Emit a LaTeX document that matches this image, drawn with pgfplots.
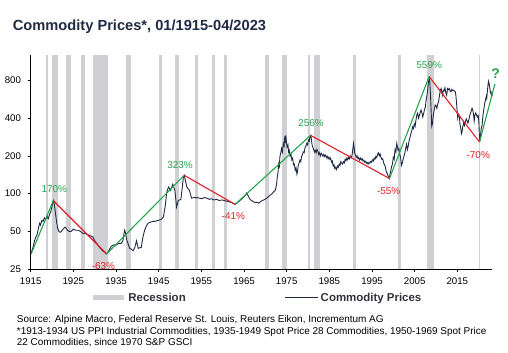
\documentclass[border=0pt]{standalone}
\usepackage{pgfplots}
\pgfplotsset{compat=1.18}
\usepackage{fontspec}
\setmainfont{Liberation Sans}
\definecolor{navy}{RGB}{31,42,68}
\definecolor{recgray}{RGB}{208,208,212}
\definecolor{tgreen}{RGB}{35,165,75}
\definecolor{tred}{RGB}{228,30,38}
\definecolor{legc}{RGB}{50,50,60}
\pgfplotsset{
  recimg/.style={legend image code/.code={\draw[recgray,line width=5bp] (0bp,0bp) -- (31bp,0bp);}},
  lineimg/.style={legend image code/.code={\draw[navy,line width=1bp] (0bp,0bp) -- (33bp,0bp);}},
}
\newcommand{\rec}[2]{\addplot[fill=recgray,draw=none,forget plot] coordinates {(#1,25) (#1,1274) (#2,1274) (#2,25)} --cycle;}
\begin{document}
\begin{tikzpicture}[x=1bp,y=1bp]
\begin{axis}[name=ax, at={(0,0)}, anchor=south west,
  scale only axis, width=461.6bp, height=213.8bp,
  xmin=1915, xmax=2023.2, ymode=log, ymin=25, ymax=1274,
  xtick={1915,1925,1935,1945,1955,1965,1975,1985,1995,2005,2015},
  xticklabels={1915,1925,1935,1945,1955,1965,1975,1985,1995,2005,2015},
  ytick={25,50,100,200,400,800},
  yticklabels={25,50,100,200,400,800},
  axis x line*=bottom, axis y line*=left,
  axis on top,
  tick align=outside, major tick length=3bp,
  tick style={black, line width=0.6bp},
  axis line style={black, line width=0.8bp},
  clip=false,
  /pgf/number format/assume math mode=true,
  ticklabel style={font=\fontsize{9.7}{11}\selectfont, text=black},
  xticklabel style={yshift=-2.3bp},
  yticklabel style={xshift=-3.2bp},
  legend style={at={(0.49,-0.134)}, anchor=center, draw=none, fill=none,
    font=\fontsize{11.5}{13}\bfseries\selectfont, text=legc, inner sep=0pt,
    /tikz/every even column/.append style={column sep=97bp}},
  legend columns=2, legend cell align=left,
]
\addlegendimage{recimg}
\addlegendimage{lineimg}
\legend{Recession, Commodity Prices}
\rec{1918.67}{1919.17}
\rec{1920.0}{1921.5}
\rec{1923.33}{1924.5}
\rec{1926.75}{1927.83}
\rec{1929.58}{1933.17}
\rec{1937.33}{1938.42}
\rec{1945.08}{1945.75}
\rec{1948.83}{1949.75}
\rec{1953.5}{1954.33}
\rec{1957.58}{1958.25}
\rec{1960.25}{1961.08}
\rec{1969.92}{1970.83}
\rec{1973.83}{1975.17}
\rec{1980.0}{1980.5}
\rec{1981.5}{1982.83}
\rec{1990.5}{1991.17}
\rec{2001.17}{2001.83}
\rec{2007.92}{2009.42}
\rec{2020.08}{2020.25}
\addplot[navy, line width=0.9bp, forget plot] coordinates {
(1915.0,33) (1915.3,35) (1915.6,38) (1915.9,42) (1916.2,45) (1916.5,47) (1916.8,53)
(1917.1,58) (1917.3,56) (1917.6,61) (1917.9,60) (1918.2,64) (1918.5,62) (1918.8,66)
(1919.1,63) (1919.4,68) (1919.7,72) (1920.0,79) (1920.3,88) (1920.5,84) (1920.8,70)
(1921.0,62) (1921.3,53) (1921.6,50) (1921.9,49) (1922.2,50) (1922.6,52) (1923.0,54)
(1923.3,53) (1923.6,51) (1924.0,50) (1924.5,50) (1925.0,52) (1925.5,51) (1926.1,51)
(1926.6,50) (1927.3,48) (1927.8,48) (1928.4,47) (1929.0,46) (1929.6,45) (1930.0,42)
(1930.5,40) (1931.2,37) (1931.8,35) (1932.3,34) (1932.7,33) (1933.1,34) (1933.5,36)
(1933.9,38) (1934.5,39) (1935.1,39) (1935.6,40) (1936.2,40) (1936.6,42) (1937.0,51)
(1937.2,49) (1937.5,43) (1937.9,39) (1938.2,36.5) (1938.6,36) (1939.0,35) (1939.4,37)
(1939.8,42) (1940.2,36.5) (1940.6,37) (1940.9,37) (1941.3,45) (1941.7,51) (1942.1,55)
(1942.5,58) (1943.0,59) (1943.6,60) (1944.1,60) (1944.8,61) (1945.5,62) (1946.1,65)
(1946.5,78) (1946.9,103) (1947.3,113) (1947.8,106) (1948.3,119) (1948.8,106) (1949.2,78)
(1949.6,88) (1950.2,90) (1950.5,110) (1950.8,136) (1951.0,140) (1951.3,125) (1951.6,113)
(1952.2,106) (1952.7,92) (1953.3,93) (1953.9,93) (1954.5,92) (1955.1,91) (1955.7,93)
(1956.3,92) (1956.9,90) (1957.4,91) (1958.0,89) (1958.6,90) (1959.2,88) (1959.8,89)
(1960.4,88) (1960.9,87) (1961.5,86) (1962.1,85) (1962.6,83) (1962.9,82) (1963.3,84)
(1963.7,86) (1964.2,89) (1964.8,93) (1965.3,97) (1965.6,101) (1966.0,96) (1966.4,90)
(1966.8,88) (1967.2,86) (1967.6,85) (1968.0,85) (1968.5,84) (1968.8,86) (1969.3,88)
(1969.9,90) (1970.5,93) (1971.1,97) (1971.6,100)
(1972.0,104) (1972.3,106) (1972.5,112) (1972.7,125) (1972.8,136) (1973.0,150) (1973.1,172)
(1973.3,165) (1973.4,196) (1973.6,210) (1973.8,229) (1974.0,215) (1974.2,251) (1974.4,240)
(1974.5,275) (1974.65,262) (1974.8,292) (1974.95,255) (1975.1,235) (1975.3,245) (1975.45,215)
(1975.6,222) (1975.8,200) (1976.0,208) (1976.2,186) (1976.4,192) (1976.6,170) (1976.8,172)
(1977.0,154) (1977.2,160) (1977.4,143) (1977.55,150) (1977.7,168) (1977.9,175) (1978.1,185)
(1978.3,180) (1978.5,198) (1978.7,205) (1978.9,215) (1979.1,212) (1979.3,232) (1979.5,240)
(1979.7,252) (1979.9,245) (1980.1,268) (1980.3,262) (1980.5,288) (1980.65,292) (1980.8,270)
(1980.95,245) (1981.1,236) (1981.3,225) (1981.5,215) (1981.7,222) (1981.9,212) (1982.1,225)
(1982.3,218) (1982.5,205) (1982.7,212) (1982.9,200) (1983.1,210) (1983.3,205) (1983.5,199)
(1983.7,206) (1983.9,198) (1984.1,203) (1984.3,194) (1984.5,199) (1984.7,190) (1984.9,196)
(1985.1,188) (1985.3,192) (1985.5,178) (1985.7,182) (1985.9,166) (1986.1,170) (1986.3,158)
(1986.5,162) (1986.7,156) (1986.9,166) (1987.1,162) (1987.3,172) (1987.5,168) (1987.7,180)
(1987.9,175) (1988.1,172) (1988.3,180) (1988.5,176) (1988.7,188) (1988.9,183) (1989.1,192)
(1989.3,186) (1989.5,195) (1989.7,190) (1989.9,200) (1990.1,193) (1990.3,200) (1990.5,225)
(1990.65,252) (1990.8,235) (1990.95,210) (1991.1,205) (1991.3,195) (1991.5,200) (1991.7,190)
(1991.9,194) (1992.1,185) (1992.3,192) (1992.5,186) (1992.7,190) (1992.9,182) (1993.1,185)
(1993.3,178) (1993.5,181) (1993.7,175) (1993.9,177) (1994.1,172) (1994.3,178) (1994.5,175)
(1994.7,181) (1994.9,178) (1995.1,186) (1995.3,182) (1995.5,192) (1995.7,188) (1995.9,198)
(1996.1,194) (1996.3,206) (1996.5,212) (1996.7,200) (1996.9,207) (1997.1,195) (1997.3,188)
(1997.5,190) (1997.7,178) (1997.9,170) (1998.1,165) (1998.3,152) (1998.5,147) (1998.7,140)
(1998.9,136) (1999.05,132) (1999.2,142) (1999.4,152) (1999.6,165) (1999.8,172) (2000.0,195)
(2000.2,188) (2000.4,225) (2000.6,215) (2000.8,252) (2000.95,238) (2001.1,222) (2001.3,228)
(2001.5,205) (2001.7,195) (2001.9,168) (2002.1,175) (2002.3,188) (2002.5,200) (2002.7,210)
(2002.9,230) (2003.1,248) (2003.3,225) (2003.5,240) (2003.7,265) (2003.9,280) (2004.1,300)
(2004.3,315) (2004.5,340) (2004.7,330) (2004.9,360) (2005.1,345) (2005.3,385) (2005.5,425)
(2005.7,440) (2005.9,400) (2006.1,420) (2006.3,445) (2006.5,465) (2006.7,440) (2006.9,410)
(2007.1,435) (2007.3,470) (2007.5,490) (2007.7,560) (2007.85,600) (2008.0,650) (2008.2,760)
(2008.4,830) (2008.55,780) (2008.7,620) (2008.85,470) (2009.0,345) (2009.15,360) (2009.3,400)
(2009.45,440) (2009.6,470) (2009.8,510) (2010.0,500) (2010.2,480) (2010.4,520) (2010.6,540)
(2010.8,600) (2011.0,665) (2011.2,690) (2011.4,640) (2011.55,610) (2011.7,670) (2011.9,660)
(2012.1,700) (2012.3,640) (2012.5,610) (2012.7,690) (2012.9,675) (2013.1,690) (2013.3,660)
(2013.5,650) (2013.7,680) (2013.9,665) (2014.1,670) (2014.3,660) (2014.5,655) (2014.65,610)
(2014.8,540) (2014.95,460) (2015.1,400) (2015.3,430) (2015.5,415) (2015.6,360) (2015.8,335)
(2015.95,300) (2016.1,310) (2016.3,345) (2016.5,370) (2016.7,350) (2016.9,375) (2017.1,395)
(2017.3,380) (2017.5,365) (2017.7,390) (2017.9,420) (2018.1,440) (2018.3,460) (2018.45,480)
(2018.6,470) (2018.8,430) (2018.95,380) (2019.1,420) (2019.3,440) (2019.5,425) (2019.7,410)
(2019.9,420) (2020.05,370) (2020.15,300) (2020.25,260) (2020.4,285) (2020.6,330) (2020.8,350)
(2021.0,420) (2021.2,470) (2021.4,520) (2021.6,560) (2021.8,600) (2021.9,580) (2022.05,660)
(2022.2,740) (2022.3,790) (2022.45,760) (2022.6,700) (2022.75,640) (2022.9,650) (2023.05,600)
(2023.2,620)
};
\addplot[tgreen, line width=1.1bp, forget plot] coordinates {(1915.1,33) (1920.3,88)};
\addplot[tred, line width=1.1bp, forget plot] coordinates {(1920.3,88) (1932.8,33)};
\addplot[tgreen, line width=1.1bp, forget plot] coordinates {(1932.8,33) (1951.0,140)};
\addplot[tred, line width=1.1bp, forget plot] coordinates {(1951.0,140) (1962.9,82)};
\addplot[tgreen, line width=1.1bp, forget plot] coordinates {(1962.9,82) (1980.6,292)};
\addplot[tred, line width=1.1bp, forget plot] coordinates {(1980.6,292) (1999.1,132)};
\addplot[tgreen, line width=1.1bp, forget plot] coordinates {(1999.1,132) (2008.4,860)};
\addplot[tred, line width=1.1bp, forget plot] coordinates {(2008.4,860) (2020.2,258)};
\addplot[tgreen, line width=1.1bp, forget plot] coordinates {(2020.2,258) (2023.8,750)};
\begin{scope}[every node/.style={font=\fontsize{10}{12}\selectfont, inner sep=0pt}]
\node[text=tgreen] at (axis cs:1920.53,108.4) {170\%};
\node[text=tred] at (axis cs:1932.05,26.4) {-63\%};
\node[text=tgreen] at (axis cs:1950.0,168) {323\%};
\node[text=tred] at (axis cs:1962.5,66.4) {-41\%};
\node[text=tgreen] at (axis cs:1980.7,363) {256\%};
\node[text=tred] at (axis cs:1998.9,105) {-55\%};
\node[text=tgreen] at (axis cs:2008.4,1060) {559\%};
\node[text=tred] at (axis cs:2019.9,203) {-70\%};
\end{scope}
\node[text=tgreen, font=\fontsize{14}{16}\bfseries\selectfont, inner sep=0pt] at (axis cs:2024.0,910) {?};
\end{axis}
\node[anchor=base west, inner sep=0pt, font=\fontsize{14.7}{17}\bfseries\selectfont, text=navy] at (-18,239) {Commodity Prices*, 01/1915-04/2023};
\begin{scope}[every node/.style={anchor=base west, inner sep=0pt, font=\fontsize{10}{12}\selectfont, text=black}]
\node at (-14,-53.5) {Source: Alpine Macro, Federal Reserve St. Louis, Reuters Eikon, Incrementum AG};
\node at (-14,-65.2) {*1913-1934 US PPI Industrial Commodities, 1935-1949 Spot Price 28 Commodities, 1950-1969 Spot Price};
\node at (-14,-76.2) {22 Commodities, since 1970 S\&P GSCI};
\end{scope}
\pgfresetboundingbox
\useasboundingbox (-30.7,-83) rectangle (477.3,269);
\end{tikzpicture}
\end{document}
